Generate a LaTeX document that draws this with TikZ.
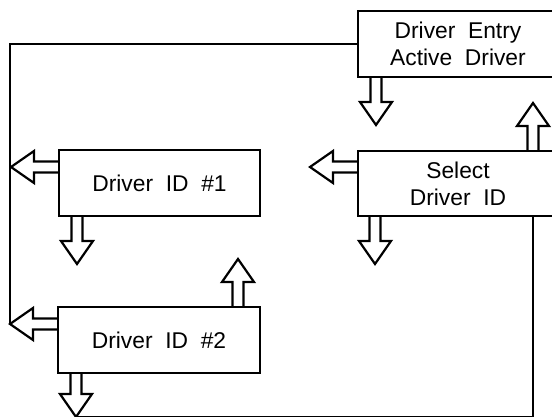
\documentclass[tikz,border=0pt]{standalone}
\usepackage{fontspec}
\setmainfont{Liberation Sans}

% hollow block arrow: [length]{base}{angle}{tip name}
\newcommand{\blockarrow}[4][47]{%
  \begin{scope}[shift={(#2)}, rotate=#3]
    \draw[arrowline] (0,-5.5) -- (#1-23,-5.5) -- (#1-23,-16) -- (#1,0)
      -- (#1-23,16) -- (#1-23,5.5) -- (0,5.5);
    \coordinate (#4) at (#1,0);
  \end{scope}}

\begin{document}
\begin{tikzpicture}[x=0.5pt, y=-0.5pt,
    box/.style={draw, line width=1pt, anchor=north west, inner sep=0pt,
      minimum width=100pt, minimum height=33pt, align=center,
      font=\fontsize{11.4}{13.5}\selectfont},
    arrowline/.style={line width=1.1pt, line join=miter},
    link/.style={line width=0.8pt}]
    \useasboundingbox (0,0) rectangle (552,417);
    \clip (0,0) rectangle (552,417);

    % Boxes
    \node[box] (entry) at (357,10) {Driver\ \ Entry\\Active\ \ Driver};
    \node[box, minimum height=32.5pt] (sel) at (357,150) {Select\\Driver\ \ ID};
    \node[box, minimum width=100.5pt] (d1) at (58,149) {Driver\ \ ID\ \ \#1};
    \node[box, minimum width=101pt] (d2) at (57,306) {Driver\ \ ID\ \ \#2};

    % Block arrows
    \blockarrow{[xshift=9.5pt]entry.south west}{270}{entrydown}
    \blockarrow{[xshift=88pt]sel.north west}{90}{selup}
    \blockarrow{[yshift=-8.5pt]sel.north west}{180}{selleft}
    \blockarrow{[xshift=9pt]sel.south west}{270}{seldown}
    \blockarrow{[yshift=-9pt]d1.north west}{180}{donleft}
    \blockarrow{[xshift=9.5pt]d1.south west}{270}{dondown}
    \blockarrow{[xshift=90.5pt]d2.north west}{90}{dtwoup}
    \blockarrow{[yshift=-9pt]d2.north west}{180}{dtwoleft}
    \blockarrow[43]{[xshift=9.5pt]d2.south west}{270}{dtwodown}

    % Lines
    \draw[link] (entry.west) -| (dtwoleft);
    \draw[link] (sel.south -| selup) |- (dtwodown);
\end{tikzpicture}
\end{document}
